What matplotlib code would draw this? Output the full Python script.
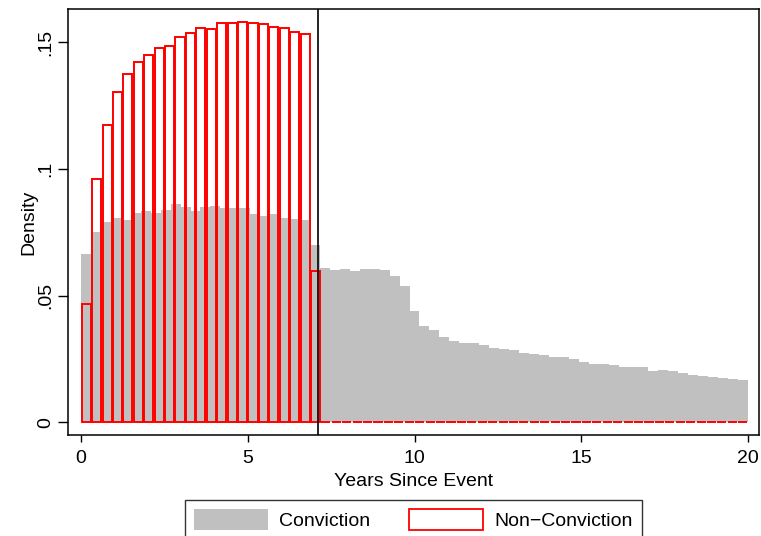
import numpy as np
import matplotlib
matplotlib.use("Agg")
import matplotlib.pyplot as plt
from matplotlib.patches import Patch

plt.rcParams['font.family'] = ['Liberation Sans', 'DejaVu Sans']

# conviction: 67 equal bins over 0-20 years
conv_density = [
    0.0664, 0.0751, 0.0791, 0.0807, 0.0799, 0.0826, 0.0834, 0.0826, 0.0838, 0.0862,
    0.0850, 0.0834, 0.0850, 0.0854, 0.0846, 0.0846, 0.0846, 0.0822, 0.0814, 0.0822,
    0.0807, 0.0803, 0.0799, 0.0700, 0.0610, 0.0602, 0.0605, 0.0599, 0.0605, 0.0605,
    0.0601, 0.0578, 0.0538, 0.0441, 0.0381, 0.0364, 0.0337, 0.0321, 0.0313, 0.0313,
    0.0305, 0.0293, 0.0289, 0.0285, 0.0274, 0.0270, 0.0266, 0.0258, 0.0258, 0.0250,
    0.0238, 0.0230, 0.0230, 0.0226, 0.0218, 0.0218, 0.0218, 0.0203, 0.0207, 0.0203,
    0.0195, 0.0187, 0.0183, 0.0179, 0.0175, 0.0171, 0.0167,
]

# non-conviction: 64 equal bins over 0-20 years, empty after ~7.2
nonconv_density = [
    0.0467, 0.0961, 0.1172, 0.1305, 0.1374, 0.1420, 0.1451, 0.1476, 0.1484, 0.1521,
    0.1538, 0.1557, 0.1554, 0.1574, 0.1575, 0.1579, 0.1576, 0.1571, 0.1559, 0.1555,
    0.1541, 0.1533, 0.0596,
] + [0.0] * 41

cutoff = 7.1
x_max = 20.0

conv_edges = np.linspace(0, x_max, len(conv_density) + 1)
nonconv_edges = np.linspace(0, x_max, len(nonconv_density) + 1)

fig = plt.figure(figsize=(7.61, 5.36), dpi=100)
W, H = 761, 536
ax = fig.add_axes([68 / W, (H - 435) / H, (759 - 68) / W, (435 - 9) / H])

ax.bar(conv_edges[:-1], conv_density, width=np.diff(conv_edges), align='edge',
       color='#c0c0c0', edgecolor='none', zorder=1)

# outlines drawn just inside each bin so neighbouring bars keep separate edges
inset = 0.02
nc_width = np.diff(nonconv_edges)
ax.bar(nonconv_edges[:-1] + inset, nonconv_density, width=nc_width - 2 * inset,
       align='edge', facecolor='none', edgecolor='#ff0000', linewidth=1.4, zorder=2)
ax.axvline(cutoff, color='black', linewidth=1.2, zorder=3)

ax.set_xlim(-0.39, 20.33)
ax.set_ylim(-0.005, 0.1631)

ax.set_xticks([0, 5, 10, 15, 20])
ax.set_yticks([0, 0.05, 0.1, 0.15])
ax.set_yticklabels(['0', '.05', '.1', '.15'], rotation=90, va='center')
ax.tick_params(axis='x', length=5, width=1, pad=6, labelsize=14)
ax.tick_params(axis='y', length=7, width=1, pad=3, labelsize=14)

for s in ax.spines.values():
    s.set_linewidth(1.1)

ax.set_xlabel('Years Since Event', fontsize=14, labelpad=4)
ax.set_ylabel('Density', fontsize=14, labelpad=0)

handles = [Patch(facecolor='#c0c0c0', edgecolor='none', label='Conviction'),
           Patch(facecolor='white', edgecolor='#ff0000', linewidth=1.3,
                 label='Non\u2212Conviction')]
leg = fig.legend(handles=handles, loc='upper left', ncol=2,
                 bbox_to_anchor=(185 / W, 1 - 500 / H), fontsize=14,
                 frameon=True, fancybox=False, edgecolor='black',
                 handlelength=3.8, handleheight=1.3, columnspacing=2.0,
                 handletextpad=0.6, borderpad=0.45, borderaxespad=0)
leg.get_frame().set_linewidth(1.0)

fig.savefig('out.png', dpi=100)
